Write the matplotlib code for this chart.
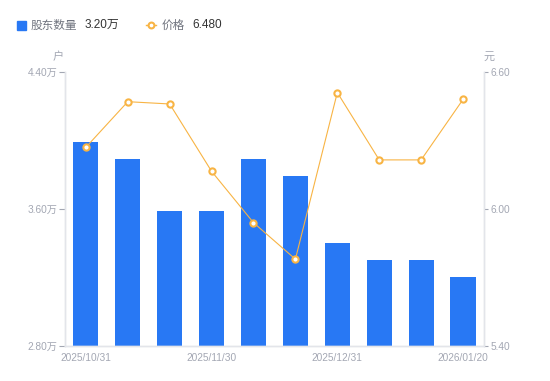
import matplotlib.pyplot as plt
import numpy as np

plt.rcParams['font.family'] = ['Liberation Sans', 'Noto Sans CJK SC', 'DejaVu Sans']

# data
holders = [3.99, 3.89, 3.59, 3.59, 3.89, 3.79, 3.40, 3.30, 3.30, 3.20]   # 万户
price = [6.27, 6.47, 6.46, 6.165, 5.94, 5.78, 6.51, 6.215, 6.215, 6.48]
dates = ["2025/10/31", "", "", "2025/11/30", "", "", "2025/12/31", "", "", "2026/01/20"]
left_ticks = [2.80, 3.60, 4.40]
right_ticks = [5.40, 6.00, 6.60]

blue = "#2878f4"
orange = "#f8b444"
grey = "#a3a7b3"
spine_col = "#e3e5ea"

fig = plt.figure(figsize=(5.5, 3.81), dpi=100)
ax = fig.add_axes([0.118, 0.092, 0.762, 0.719])
x = np.arange(len(holders))
ax.bar(x, holders, width=0.6, color=blue, zorder=2)
ax.set_xlim(-0.5, len(holders) - 0.5)
ax.set_ylim(left_ticks[0], left_ticks[-1])
ax.set_yticks(left_ticks)
ax.set_yticklabels([f"{v:.2f}万" for v in left_ticks])

ax2 = ax.twinx()
ax2.plot(x, price, color=orange, lw=0.8, marker="o", ms=4.5, mfc="white",
         mec=orange, mew=1.5, zorder=3)
ax2.set_ylim(right_ticks[0], right_ticks[-1])
ax2.set_yticks(right_ticks)
ax2.set_yticklabels([f"{v:.2f}" for v in right_ticks])

shown = [i for i, d in enumerate(dates) if d]
ax.set_xticks(shown)
ax.set_xticklabels([dates[i] for i in shown])

for a in (ax, ax2):
    a.spines["top"].set_visible(False)
    for s in ("left", "right", "bottom"):
        a.spines[s].set_color(spine_col)
        a.spines[s].set_linewidth(1)
    a.tick_params(colors=grey, labelsize=7.3, length=4, width=0.8, pad=1.5)
    for lbl in a.get_yticklabels() + a.get_xticklabels():
        lbl.set_color(grey)
ax.tick_params(axis="x", length=0, pad=5)
ax2.tick_params(axis="y", length=3, pad=2)

# unit labels
fig.text(58 / 550, 1 - 57 / 381, "户", color=grey, fontsize=8, ha="center", va="center")
fig.text(489 / 550, 1 - 57 / 381, "元", color=grey, fontsize=8, ha="center", va="center")

# legend header
ly = 1 - 25 / 381
fig.patches.append(plt.Rectangle((16.7 / 550, 1 - 29.5 / 381), 9 / 550, 9 / 381,
                                 transform=fig.transFigure, color=blue))
fig.text(31 / 550, ly, "股东数量", color="#70747f", fontsize=8.4,
         va="center", family=['Noto Sans CJK SC'])
fig.text(85 / 550, ly, f"{holders[-1]:.2f}万", color="#333333", fontsize=8.5, va="center")
fig.lines.append(plt.Line2D([146 / 550, 156 / 550], [ly] * 2, transform=fig.transFigure,
                            color=orange, lw=1))
fig.lines.append(plt.Line2D([151 / 550], [ly], transform=fig.transFigure,
                            color=orange, marker="o", ms=4.2, mfc="white", mew=1.5))
fig.text(162 / 550, ly, "价格", color="#70747f", fontsize=8.4,
         va="center", family=['Noto Sans CJK SC'])
fig.text(192 / 550, ly, f"{price[-1]:.3f}", color="#333333", fontsize=8.5, va="center")

plt.savefig("out.png", dpi=100)
plt.close()
